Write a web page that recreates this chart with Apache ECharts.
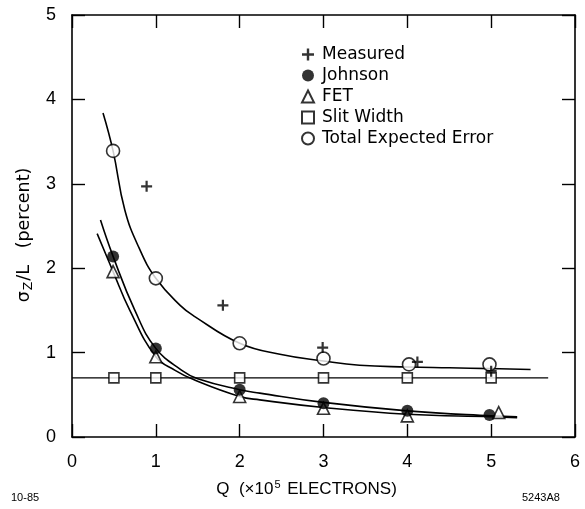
<!DOCTYPE html>
<html><head><meta charset="utf-8">
<script src="https://cdn.jsdelivr.net/npm/echarts@6/dist/echarts.min.js"></script>
<style>html,body{margin:0;padding:0;background:#fff}#c{width:585px;height:509px}</style>
</head><body><div id="c"></div>
<script>
// ---- data ----
const xTicks = [0, 1, 2, 3, 4, 5, 6];
const yTicks = [0, 1, 2, 3, 4, 5];
const measured = [[0.89, 2.97], [1.8, 1.56], [2.99, 1.06], [4.12, 0.89], [5.0, 0.78]];
const johnson = [[0.49, 2.14], [1.0, 1.05], [2.0, 0.56], [3.0, 0.40], [4.0, 0.31], [4.98, 0.26]];
const fet = [[0.49, 1.96], [1.0, 0.95], [2.0, 0.48], [3.0, 0.34], [4.0, 0.25], [5.09, 0.29]];
const slitWidth = [[0.5, 0.70], [1.0, 0.70], [2.0, 0.70], [3.0, 0.70], [4.0, 0.70], [5.0, 0.70]];
const totalError = [[0.49, 3.39], [1.0, 1.88], [2.0, 1.11], [3.0, 0.93], [4.02, 0.86], [4.98, 0.86]];
// hand-drawn fitted curves
const totalCurve = [[0.37, 3.84], [0.49, 3.39], [0.63, 2.69], [0.8, 2.24], [1.0, 1.88], [1.29, 1.56], [1.46, 1.43], [2.0, 1.11], [2.48, 0.98], [3.0, 0.90], [3.43, 0.85], [4.0, 0.83], [4.5, 0.82], [5.0, 0.81], [5.47, 0.80]];
const johnsonCurve = [[0.34, 2.57], [0.49, 2.14], [0.75, 1.50], [1.0, 1.05], [1.31, 0.79], [1.5, 0.69], [2.0, 0.56], [2.24, 0.52], [3.0, 0.41], [4.0, 0.31], [5.0, 0.25], [5.31, 0.24]];
const fetCurve = [[0.30, 2.41], [0.49, 1.96], [0.69, 1.50], [1.0, 0.95], [1.23, 0.79], [1.45, 0.68], [2.0, 0.48], [2.24, 0.44], [3.0, 0.35], [4.0, 0.27], [5.0, 0.24], [5.31, 0.23]];
const slitLine = [[0, 0.70], [5.68, 0.70]];
const legendNames = ['Measured', 'Johnson', 'FET', 'Slit Width', 'Total Expected Error'];

const FONT = 'Liberation Sans';
const plusPath = 'path://M4,0H6V4H10V6H6V10H4V6H0V4H4Z';
const chart = echarts.init(document.getElementById('c'), null, {renderer: 'canvas'});

function curve(data) {
  return {type: 'line', data: data, smooth: 0.45, showSymbol: false, silent: true,
    lineStyle: {color: '#000', width: 1.6}, z: 2, xAxisIndex: 0, yAxisIndex: 0};
}
function axisBase() {
  return {
    min: 0, interval: 1,
    axisLine: {show: true, onZero: false, lineStyle: {color: '#000', width: 1.6}},
    axisTick: {show: true, inside: true, length: 13, lineStyle: {color: '#000', width: 1.4}},
    splitLine: {show: false}
  };
}

chart.setOption({
  animation: false,
  backgroundColor: '#fff',
  grid: {left: 72, right: 10, top: 15, bottom: 72, containLabel: false},
  xAxis: [
    Object.assign(axisBase(), {type: 'value', max: 6, position: 'bottom',
      name: '{t|Q  (×10}{s|5}{t| ELECTRONS)}', nameLocation: 'middle', nameGap: 42,
      nameTextStyle: {padding: [0, 34, 0, 0], rich: {
        t: {fontFamily: FONT, fontSize: 17, color: '#000'},
        s: {fontFamily: FONT, fontSize: 11, color: '#000', verticalAlign: 'top', padding: [0, 2, 10, 1]}}},
      axisLabel: {show: true, margin: 16, fontFamily: FONT, fontSize: 18, color: '#000',
        formatter: v => xTicks.includes(v) ? String(v) : ''}}),
    Object.assign(axisBase(), {type: 'value', max: 6, position: 'top', axisLabel: {show: false}})
  ],
  yAxis: [
    Object.assign(axisBase(), {type: 'value', max: 5, position: 'left',
      name: '{t|σ}{s|Z}{t|/L   (percent)}', nameLocation: 'middle', nameGap: 32, nameRotate: 90,
      nameTextStyle: {padding: [0, 18, 0, 0], rich: {
        t: {fontFamily: 'DejaVu Sans', fontSize: 17.5, color: '#000'},
        s: {fontFamily: 'DejaVu Sans', fontSize: 12.5, color: '#000', verticalAlign: 'bottom', padding: [8, 1, 0, 1]}}},
      axisLabel: {show: true, margin: 16, fontFamily: FONT, fontSize: 18, color: '#000',
        formatter: v => yTicks.includes(v) ? String(v) : ''}}),
    Object.assign(axisBase(), {type: 'value', max: 5, position: 'right', axisLabel: {show: false}})
  ],
  legend: {
    orient: 'vertical', left: 296, top: 41, itemWidth: 12, itemHeight: 12, itemGap: 4,
    data: legendNames, selectedMode: false,
    textStyle: {fontFamily: 'DejaVu Sans', fontSize: 17, color: '#000', padding: [0, 0, 0, 3]}
  },
  graphic: [
    {type: 'text', left: 11, top: 492, style: {text: '10-85', font: '11px ' + FONT, fill: '#000'}},
    {type: 'text', left: 522, top: 492, style: {text: '5243A8', font: '11px ' + FONT, fill: '#000'}}
  ],
  series: [
    curve(totalCurve), curve(johnsonCurve), curve(fetCurve),
    {type: 'line', data: slitLine, showSymbol: false, silent: true, lineStyle: {color: '#000', width: 1.4}, z: 2},
    {name: 'Measured', type: 'scatter', data: measured, symbol: plusPath, symbolSize: 11,
      itemStyle: {color: '#000'}, z: 5},
    {name: 'Johnson', type: 'scatter', data: johnson, symbol: 'circle', symbolSize: 12,
      itemStyle: {color: '#000'}, z: 5},
    {name: 'FET', type: 'scatter', data: fet, symbol: 'triangle', symbolSize: 12,
      itemStyle: {color: '#fff', borderColor: '#000', borderWidth: 1.6}, z: 4},
    {name: 'Slit Width', type: 'scatter', data: slitWidth, symbol: 'rect', symbolSize: 10,
      itemStyle: {color: '#fff', borderColor: '#000', borderWidth: 1.6}, z: 4},
    {name: 'Total Expected Error', type: 'scatter', data: totalError, symbol: 'circle', symbolSize: 13,
      itemStyle: {color: '#fff', borderColor: '#000', borderWidth: 1.6}, z: 4}
  ]
});
</script></body></html>
